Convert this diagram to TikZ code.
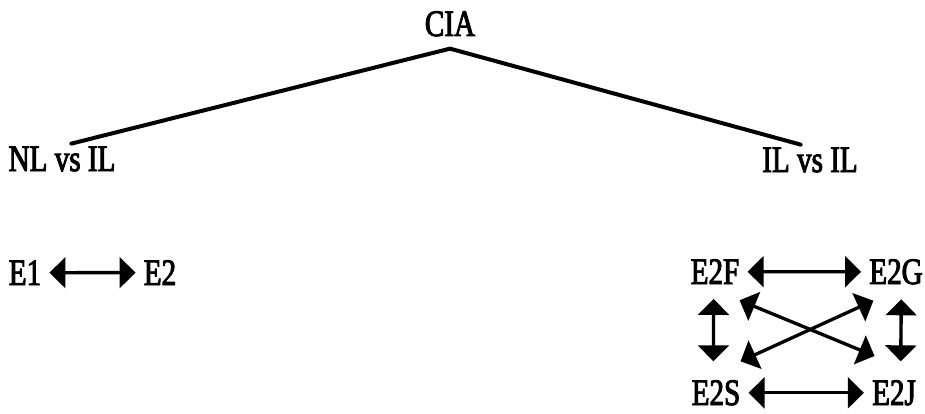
\documentclass[tikz,border=0pt]{standalone}
\usepackage{fontspec}
\setmainfont{Liberation Serif}[FakeStretch=0.78,FakeBold=2.5]
\usetikzlibrary{arrows.meta}

\tikzset{
    lbl/.style={anchor=base, inner sep=2pt, font=\fontsize{28}{32}\selectfont},
    branch/.style={line width=3pt, line cap=round},
    dbl/.style={line width=2.5pt, {Triangle[length=12pt,width=23pt]}-{Triangle[length=12pt,width=23pt]}},
    gap/.style={shorten <=4pt, shorten >=4pt}
}

\begin{document}
\begin{tikzpicture}[x=0.75pt, y=-0.75pt]
    \useasboundingbox (0,0) rectangle (925,414);

    % tree
    \node[lbl] (cia) at (450,36) {CIA};
    \node[lbl] (nl) at (62,171) {NL vs IL};
    \node[lbl] (il) at (810,172) {IL vs IL};

    \draw[branch] ([xshift=7pt]nl.north) -- ([yshift=-7pt]cia.south) -- ([xshift=-7pt]il.north);

    % left pair
    \node[lbl] (e1) at (25,285) {E1};
    \node[lbl] (e2) at (160,285) {E2};
    \draw[dbl, gap] (e1) -- (e2);

    % right square
    \node[lbl] (e2f) at (715,284) {E2F};
    \node[lbl] (e2g) at (896,284) {E2G};
    \node[lbl] (e2s) at (716,405) {E2S};
    \node[lbl] (e2j) at (894,405) {E2J};

    \draw[dbl, gap] (e2f) -- (e2g);
    \draw[dbl, gap] (e2s) -- (e2j);
    \draw[dbl] ([xshift=-1pt,yshift=-9pt]e2f.south) -- ([xshift=-2pt,yshift=12pt]e2s.north);
    \draw[dbl] ([xshift=4pt,yshift=-9pt]e2g.south) -- ([xshift=5pt,yshift=12pt]e2j.north);
    \draw[dbl] ([xshift=-2pt,yshift=-10pt]e2f.south east) -- ([xshift=4pt,yshift=16pt]e2j.north west);
    \draw[dbl] ([xshift=-2pt,yshift=12pt]e2s.north east) -- ([xshift=-17pt,yshift=-10pt]e2g.south);
\end{tikzpicture}
\end{document}
